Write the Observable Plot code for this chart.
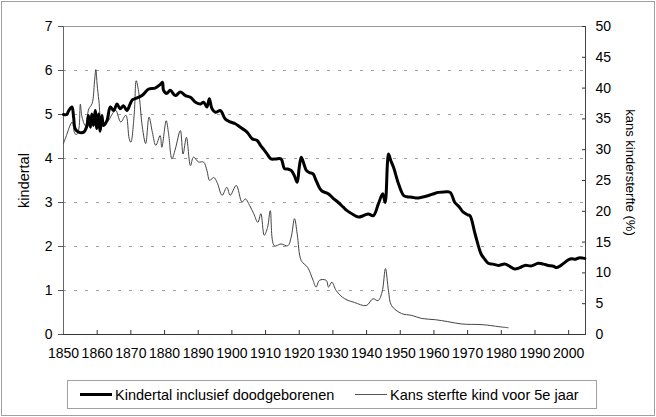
<!DOCTYPE html>
<html><head><meta charset="utf-8">
<script src="https://cdn.jsdelivr.net/npm/d3@7"></script>
<script src="https://cdn.jsdelivr.net/npm/@observablehq/plot@0.6"></script>
<style>
body{margin:0;background:#fff;font-family:"Liberation Sans",Arial,sans-serif;}
#wrap{position:relative;width:656px;height:417px;overflow:hidden;background:#fff}
#border{position:absolute;left:1px;top:1px;width:654px;height:415px;border:1px solid #a0a0a0;box-sizing:border-box}
#chart{position:absolute;left:0;top:0}
#legend{position:absolute;left:67px;top:380px;width:530px;height:29px;border:1px solid #a0a0a0;box-sizing:border-box;font-size:14.5px;color:#000}
.item{position:absolute;top:0;height:27px;display:flex;align-items:center;white-space:nowrap}
.swatch{display:inline-block;width:32px;margin-right:3px}
</style>
</head><body>
<div id="wrap"><div id="border"></div><div id="chart"></div>
<div id="legend">
  <div class="item" style="left:12px"><span class="swatch" style="border-top:3px solid #000"></span><span id="l1"></span></div>
  <div class="item" style="left:287px"><span class="swatch" style="border-top:1px solid #555"></span><span id="l2"></span></div>
</div></div>
<script>
const seriesNames = ["Kindertal inclusief doodgeborenen", "Kans sterfte kind voor 5e jaar"];
const leftLabel = "kindertal";
const rightLabel = "kans kindersterfte (%)";
const xTicks = [1850,1860,1870,1880,1890,1900,1910,1920,1930,1940,1950,1960,1970,1980,1990,2000];
const xDomain = [1850, 2005];
const leftTicks = [0,1,2,3,4,5,6,7];
const gridValues = [1,2,3,4,5,6];
const rightTicks = [0,5,10,15,20,25,30,35,40,45,50];
const rightMax = 50, leftMax = 7;

const kindertalYears = [1850,1851,1851.5,1852.5,1853,1853.5,1854.5,1856,1857,1857.4,1858,1858.4,1858.9,1859.4,1859.9,1860.4,1860.9,1861.4,1861.9,1862.9,1863.9,1864.9,1865.9,1866.8,1867.8,1868.8,1869.8,1870.4,1871.3,1873.3,1875.3,1877.2,1878.7,1879.4,1879.7,1880.7,1881.7,1883.2,1884.7,1886.2,1887.7,1889.2,1890.7,1891.6,1892.6,1893.3,1894.1,1895.1,1896.6,1898,1899.5,1901,1902.5,1904.5,1906,1907.5,1908.5,1909.5,1910.5,1911.6,1913,1914.6,1915.6,1916.6,1917.6,1918.6,1919.4,1920,1920.6,1921.5,1922.1,1923,1924.1,1925,1926.6,1928.6,1930,1931.6,1933,1934.1,1935.5,1937.6,1939,1940.5,1942,1943.5,1944.8,1945.5,1946.2,1946.5,1947.2,1948,1949.5,1951,1952,1953.5,1955,1956.4,1958.4,1960,1961.3,1963,1964.8,1966.2,1967.5,1968.7,1970,1970.7,1972.2,1974,1975,1976.1,1977.5,1979.1,1981,1982.5,1984,1985.5,1987,1989,1991,1992.5,1994,1995.5,1996.4,1997.5,1998.9,2000,2000.9,2002,2003,2004.8];
const kindertalValues = [5.0,5.0,5.08,5.17,4.94,4.67,4.6,4.6,4.75,4.98,4.71,5.01,4.75,5.09,4.68,5.01,4.62,4.98,4.75,4.86,5.17,5.09,5.24,5.13,5.2,5.09,5.24,5.33,5.36,5.43,5.58,5.6,5.68,5.73,5.55,5.48,5.55,5.43,5.51,5.43,5.39,5.28,5.24,5.28,5.17,5.36,5.13,5.05,5.09,4.9,4.83,4.79,4.71,4.6,4.45,4.41,4.3,4.2,4.1,3.99,3.99,3.99,3.77,3.76,3.73,3.6,3.46,3.8,4.03,3.85,3.73,3.68,3.65,3.5,3.27,3.2,3.1,3.0,2.9,2.82,2.75,2.67,2.7,2.74,2.7,2.97,3.2,3.0,3.9,4.1,3.95,3.8,3.42,3.16,3.13,3.12,3.1,3.12,3.16,3.2,3.23,3.24,3.23,3.0,2.9,2.78,2.72,2.7,2.29,1.83,1.72,1.62,1.6,1.57,1.6,1.55,1.49,1.52,1.57,1.56,1.62,1.6,1.57,1.55,1.52,1.56,1.64,1.7,1.72,1.71,1.74,1.73];

const sterfteYears = [1850,1851,1852,1852.6,1853.4,1854,1854.6,1855,1855.5,1856.5,1857.5,1858.5,1859.2,1859.6,1860,1860.5,1861.5,1863,1864.5,1865.5,1867,1868.5,1869.5,1870,1871,1871.6,1872.4,1873.4,1874.4,1875.4,1876.4,1877.4,1878.7,1879.2,1880.5,1881.2,1882.2,1883.2,1884.7,1885.5,1886.5,1887.7,1888.6,1890.1,1891.6,1892.6,1893.4,1894.6,1895.6,1897.1,1898.5,1899.5,1901.3,1903,1904,1905.5,1906.5,1907.7,1908.6,1909.6,1910.6,1911.4,1912.6,1914.6,1916.6,1917.6,1918.6,1919.4,1920.6,1922.5,1924.1,1925,1926,1928,1928.7,1929.7,1931,1933.5,1936.4,1939.9,1941.9,1943.4,1944.6,1945.6,1946.5,1947.4,1950.4,1953.4,1956.4,1960.4,1964,1968.3,1974.3,1980.3,1982];
const sterfteValues = [31,32.5,34,34.5,32.6,32.5,33.5,37.4,35.3,33.9,36.6,37.5,41,43,40.5,38,34.2,34.5,35.8,36.4,34.5,35.6,31.8,31.2,35.8,41.2,39.1,33.7,31,35.3,32.8,30.7,32.3,30.4,34.7,32.6,28.5,30.1,33.1,29.3,32,27.4,28.8,28,28,26.6,25,25.5,24.7,22.6,23.9,22.6,24.2,21.5,22,20.7,19.6,18.2,19.6,16.1,17.4,20.1,14.4,14.7,14.4,15.8,18.8,16.3,12,10.9,8.8,7.7,8.8,8.8,7.7,8.5,7.1,5.8,5.2,4.7,5.8,5.5,6.9,10.7,7.1,4.7,3.4,3.1,2.6,2.4,2.1,1.7,1.6,1.2,1.1];

const K = leftMax / rightMax; // maps % onto the kindertal scale
const kindertal = kindertalYears.map((y, i) => ({year: y, value: kindertalValues[i]}));
const sterfte = sterfteYears.map((y, i) => ({year: y, value: sterfteValues[i] * K}));

document.getElementById("l1").textContent = seriesNames[0];
document.getElementById("l2").textContent = seriesNames[1];

const chart = Plot.plot({
  width: 656,
  height: 370,
  marginTop: 26,
  marginBottom: 36,
  marginLeft: 63,
  marginRight: 71,
  style: {fontFamily: "'Liberation Sans', Arial, sans-serif", fontSize: "14px", color: "#000", background: "transparent", overflow: "visible"},
  x: {domain: xDomain},
  y: {domain: [0, leftMax]},
  marks: [
    Plot.ruleY(gridValues, {stroke: "#a0a0a0", strokeDasharray: "3,8"}),
    Plot.frame({stroke: "#999"}),
    Plot.axisX(xTicks, {tickFormat: d => String(d), tickSize: -4, tickPadding: 18, stroke: "#333", label: null}),
    Plot.axisY(leftTicks, {anchor: "left", tickSize: 5, tickPadding: 6, stroke: "#555", label: null}),
    Plot.axisY(rightTicks.map(t => t * K), {anchor: "right", tickSize: -4, tickPadding: 14, stroke: "#333", tickFormat: d => String(Math.round(d / K)), label: null}),
    Plot.ruleY([0], {stroke: "#333"}),
    Plot.ruleX([xDomain[0]], {stroke: "#666"}),
    Plot.ruleX([xDomain[1]], {stroke: "#444"}),
    Plot.line(sterfte, {x: "year", y: "value", stroke: "#444", strokeWidth: 1, curve: "catmull-rom"}),
    Plot.line(kindertal, {x: "year", y: "value", stroke: "#000", strokeWidth: 3, strokeLinejoin: "round", curve: "catmull-rom"}),
    Plot.text([leftLabel], {frameAnchor: "left", textAnchor: "middle", rotate: -90, dx: -39, fontSize: 14.5, fill: "#000"}),
    Plot.text([rightLabel], {frameAnchor: "right", textAnchor: "middle", rotate: 90, dx: 45, dy: -8, fontSize: 13, fill: "#000"})
  ]
});
document.getElementById("chart").appendChild(chart);
</script>
</body></html>
